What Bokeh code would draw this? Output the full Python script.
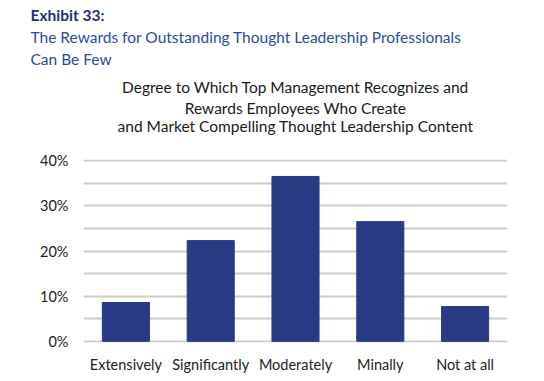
from bokeh.plotting import figure
from bokeh.models import Title, FactorRange, Range1d, SingleIntervalTicker, CustomJSTickFormatter
from bokeh.embed import file_html
from bokeh.resources import INLINE

categories = ["Extensively", "Significantly", "Moderately", "Minally", "Not at all"]
values = [8.6, 22.3, 36.5, 26.5, 7.7]
y_ticks = [0, 10, 20, 30, 40]

FONT = "Lato"
NAVY = "#283a84"

p = figure(x_range=FactorRange(*categories, range_padding=0), y_range=Range1d(-0.25, 40.25),
           width=544, height=381, output_backend="svg", toolbar_location=None,
           min_border_left=83, min_border_right=37, min_border_top=159, min_border_bottom=39)
p.outline_line_color = None
p.background_fill_color = "white"
p.title.visible = False

p.vbar(x=categories, top=values, width=0.555, color=NAVY)

p.xgrid.grid_line_color = None
p.ygrid.ticker = SingleIntervalTicker(interval=5)
p.ygrid.grid_line_color = "#cccccc"
p.ygrid.grid_line_width = 2
p.ygrid.level = "underlay"

p.yaxis.ticker = y_ticks
p.yaxis.formatter = CustomJSTickFormatter(code="return tick + '%';")
for ax in (p.xaxis[0], p.yaxis[0]):
    ax.axis_line_color = None
    ax.major_tick_line_color = None
    ax.minor_tick_line_color = None
    ax.major_label_text_font = FONT
    ax.major_label_text_font_size = "14.5px"
    ax.major_label_text_color = "#222222"
p.yaxis.major_label_standoff = 9
p.xaxis.major_label_standoff = 7

SPACER = "\u00a0"
# (text, align, offset, standoff, size, style, color, valign) from bottom (nearest plot) to top
lines = [
    (SPACER, "left", 0, 20, "1px", "normal", "#ffffff", "bottom"),
    ("and Market Compelling Thought Leadership Content", "center", 0, 0, "15.5px", "normal", "#1a1a1a", "top"),
    ("Rewards Employees Who Create", "center", 0, 0, "15.5px", "normal", "#1a1a1a", "bottom"),
    ("Degree to Which Top Management Recognizes and", "center", 0, 1, "15.5px", "normal", "#1a1a1a", "bottom"),
    (SPACER, "left", 0, 5, "1px", "normal", "#ffffff", "bottom"),
    ("Can Be Few", "left", -53, 0, "15.5px", "normal", "#2e4a9e", "bottom"),
    ("The Rewards for Outstanding Thought Leadership Professionals", "left", -53, 4, "15.5px", "normal", "#2e4a9e", "bottom"),
    ("Exhibit 33:", "left", -53, 0, "15.5px", "bold", "#23317a", "bottom"),
]
for text, align, off, so, size, style, color, valign in lines:
    p.add_layout(Title(text=text, align=align, offset=off, standoff=so, text_font=FONT,
                       text_font_size=size, text_font_style=style, text_color=color,
                       vertical_align=valign), "above")

open("out.html", "w").write(file_html(p, INLINE))
